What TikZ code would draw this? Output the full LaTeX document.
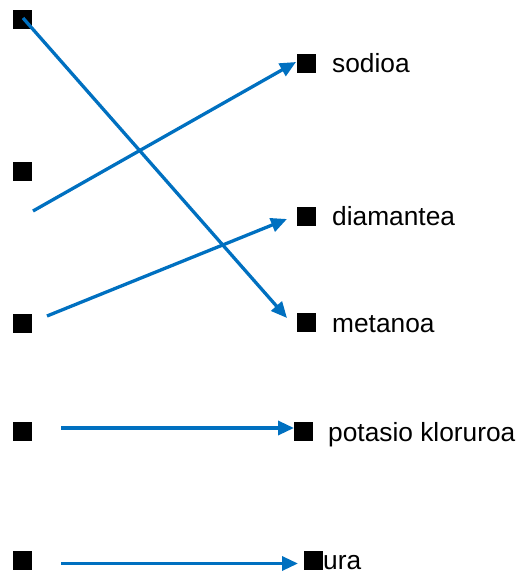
\documentclass[tikz,border=0pt]{standalone}
\usepackage{fontspec}
\setmainfont{Liberation Sans}
\usetikzlibrary{arrows.meta}
\definecolor{linkblue}{HTML}{0070C0}
\tikzset{
  bullet/.style={fill=black, draw=none, minimum size=19pt, inner sep=0pt},
  word/.style={anchor=base west, inner sep=0pt, font=\fontsize{26.3}{31}\selectfont},
  link/.style={draw=linkblue, line width=3.3pt, -{Triangle[length=16pt,width=14pt]}},
}
\begin{document}
\begin{tikzpicture}[x=1pt,y=-1pt]
  \useasboundingbox (0,0) rectangle (528,575);
  % left column of markers
  \node[bullet] (l1) at (22.5,19.5) {};
  \node[bullet] (l2) at (22.5,171) {};
  \node[bullet] (l3) at (22.5,323) {};
  \node[bullet] (l4) at (22.5,431.5) {};
  \node[bullet] (l5) at (22.5,560) {};
  % right column of markers with their words
  \node[bullet] (r1) at (306.5,63.5) {};
  \node[bullet] (r2) at (306.5,216) {};
  \node[bullet] (r3) at (306.5,322.5) {};
  \node[bullet] (r4) at (303,431.5) {};
  \node[bullet] (r5) at (313.5,560) {};
  \node[word] (t1) at (332,73) {sodioa};
  \node[word] (t2) at (332,225.5) {diamantea};
  \node[word] (t3) at (332,332) {metanoa};
  \node[word] (t4) at (328,441) {potasio kloruroa};
  \node[word] (t5) at (323,569.5) {ura};
  % free ends of the connectors
  \coordinate (a1) at (23,18);
  \coordinate (b1) at (287,318);
  \coordinate (a2) at (33,211);
  \coordinate (b2) at (296,62);
  \coordinate (a3) at (47,316);
  \coordinate (b3) at (287,219);
  \coordinate (a4) at (61,428);
  \coordinate (b4) at (294,428);
  \coordinate (a5) at (61,563.5);
  \coordinate (b5) at (298,563.5);
  % connectors
  \draw[link] (a1) -- (b1);
  \draw[link] (a2) -- (b2);
  \draw[link] (a3) -- (b3);
  \draw[link] (a4) -- (b4);
  \draw[link] (a5) -- (b5);
\end{tikzpicture}
\end{document}
